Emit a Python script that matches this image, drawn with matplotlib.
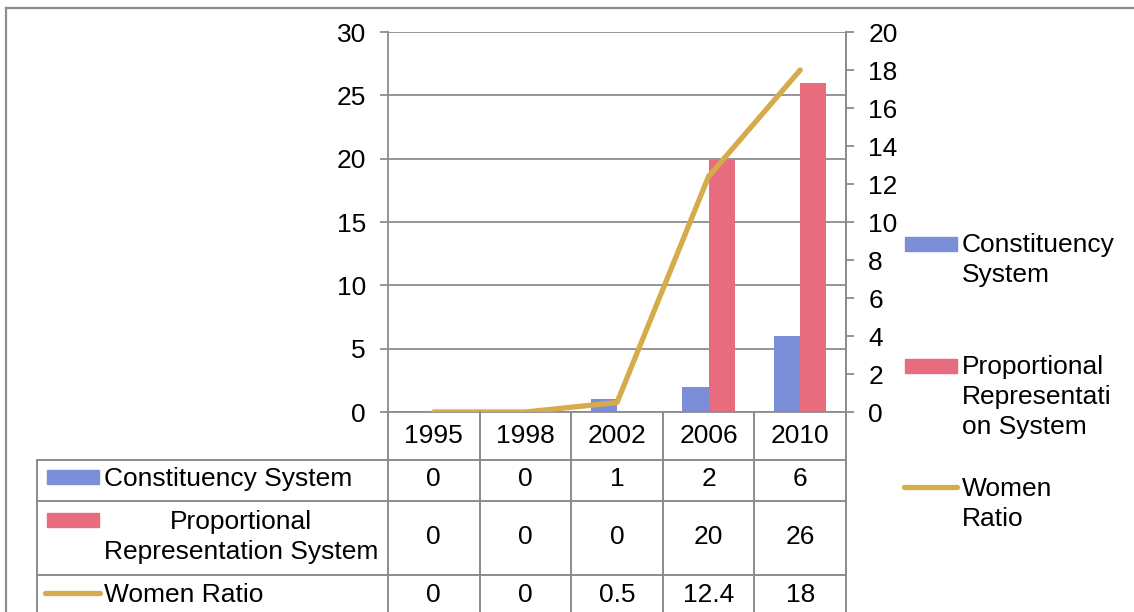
import matplotlib
matplotlib.use("Agg")
import matplotlib.pyplot as plt
from matplotlib.lines import Line2D
from matplotlib.patches import Rectangle

plt.rcParams['font.family'] = ['Liberation Sans', 'DejaVu Sans']

# data
years = ['1995', '1998', '2002', '2006', '2010']
constituency = [0, 0, 1, 2, 6]
proportional = [0, 0, 0, 20, 26]
women_ratio = [0, 0, 0.5, 12.4, 18]

blue = '#7b8ed8'
pink = '#e66c7e'
gold = '#d5ab4b'
grey = '#8c8c8c'
fs = 19
ls = 1.3

W, H = 1134, 612
fig = plt.figure(figsize=(W / 100, H / 100), dpi=100)


def fx(x):
    return x / W


def fy(y):
    return 1 - y / H


def hline(y, x0, x1, lw=1.4):
    fig.add_artist(Line2D([fx(x0), fx(x1)], [fy(y), fy(y)], color=grey, lw=lw))


def vline(x, y0, y1, lw=1.4):
    fig.add_artist(Line2D([fx(x), fx(x)], [fy(y0), fy(y1)], color=grey, lw=lw))


# plot area
ax_l, ax_r, ax_t, ax_b = 388, 846, 32, 412
ax = fig.add_axes([fx(ax_l), fy(ax_b), fx(ax_r - ax_l), (ax_b - ax_t) / H])
x = list(range(len(years)))
bw = 0.285
ax.bar([i - bw / 2 for i in x], constituency, bw, color=blue, zorder=2)
ax.bar([i + bw / 2 for i in x], proportional, bw, color=pink, zorder=2)
ax.set_xlim(-0.5, len(years) - 0.5)
ax.set_ylim(0, 30)
ax.set_yticks(range(0, 31, 5))
ax.yaxis.grid(True, color=grey, lw=1.3, zorder=0)
ax.set_xticks([])
ax.tick_params(axis='y', length=6, width=1.3, color=grey, labelsize=fs, pad=10)
ax.spines['top'].set_visible(False)
for s in ['left', 'bottom', 'right']:
    ax.spines[s].set_color(grey)
    ax.spines[s].set_linewidth(1.3)

ax2 = ax.twinx()
ax2.plot(x, women_ratio, color=gold, lw=3.8, solid_capstyle='round',
         solid_joinstyle='round', zorder=3)
ax2.set_ylim(0, 20)
ax2.set_yticks(range(0, 21, 2))
ax2.tick_params(axis='y', length=6, width=1.3, color=grey, labelsize=fs, pad=10)
for s in ['top', 'left', 'bottom']:
    ax2.spines[s].set_visible(False)
ax2.spines['right'].set_color(grey)
ax2.spines['right'].set_linewidth(1.3)

# outer chart frame
hline(8, 6, W, lw=1.6)
vline(6, 8, H, lw=1.6)

# data table under the plot
col_w = (ax_r - ax_l) / len(years)
col_edges = [ax_l + i * col_w for i in range(len(years) + 1)]
tab_l = 37
row_y = [460, 501, 575]
for xe in col_edges:
    vline(xe, ax_b, H)
vline(tab_l, row_y[0], H)
for ry in row_y:
    hline(ry, tab_l, ax_r)

centers = [ax_l + (i + 0.5) * col_w for i in range(len(years))]
for cx, yr in zip(centers, years):
    fig.text(fx(cx), fy(436), yr, ha='center', va='center', fontsize=fs)

rows = [
    ('Constituency System', constituency, 479),
    ('Proportional\nRepresentation System', proportional, 537),
    ('Women Ratio', women_ratio, 595),
]
for label, vals, cy in rows:
    fig.text(fx(104), fy(cy), label, ha='left', va='center', fontsize=fs,
             multialignment='center', linespacing=ls)
    for cx, v in zip(centers, vals):
        fig.text(fx(cx), fy(cy), f'{v:g}', ha='center', va='center', fontsize=fs)

# legend keys inside the table
fig.add_artist(Rectangle((fx(47), fy(484)), fx(52), 14 / H, color=blue))
fig.add_artist(Rectangle((fx(47), fy(527)), fx(52), 14 / H, color=pink))
fig.add_artist(Line2D([fx(45), fx(100)], [fy(593), fy(593)], color=gold, lw=3.8,
                      solid_capstyle='round'))

# legend on the right
fig.add_artist(Rectangle((fx(905), fy(251)), fx(52), 14 / H, color=blue))
fig.text(fx(962), fy(260), 'Constituency\nSystem', ha='left', va='center',
         fontsize=fs, linespacing=ls)
fig.add_artist(Rectangle((fx(905), fy(373)), fx(52), 14 / H, color=pink))
fig.text(fx(962), fy(397), 'Proportional\nRepresentati\non System', ha='left',
         va='center', fontsize=fs, linespacing=ls)
fig.add_artist(Line2D([fx(904), fx(957)], [fy(487), fy(487)], color=gold, lw=3.8,
                      solid_capstyle='round'))
fig.text(fx(962), fy(504), 'Women\nRatio', ha='left', va='center',
         fontsize=fs, linespacing=ls)

fig.savefig('out.png', dpi=100)
